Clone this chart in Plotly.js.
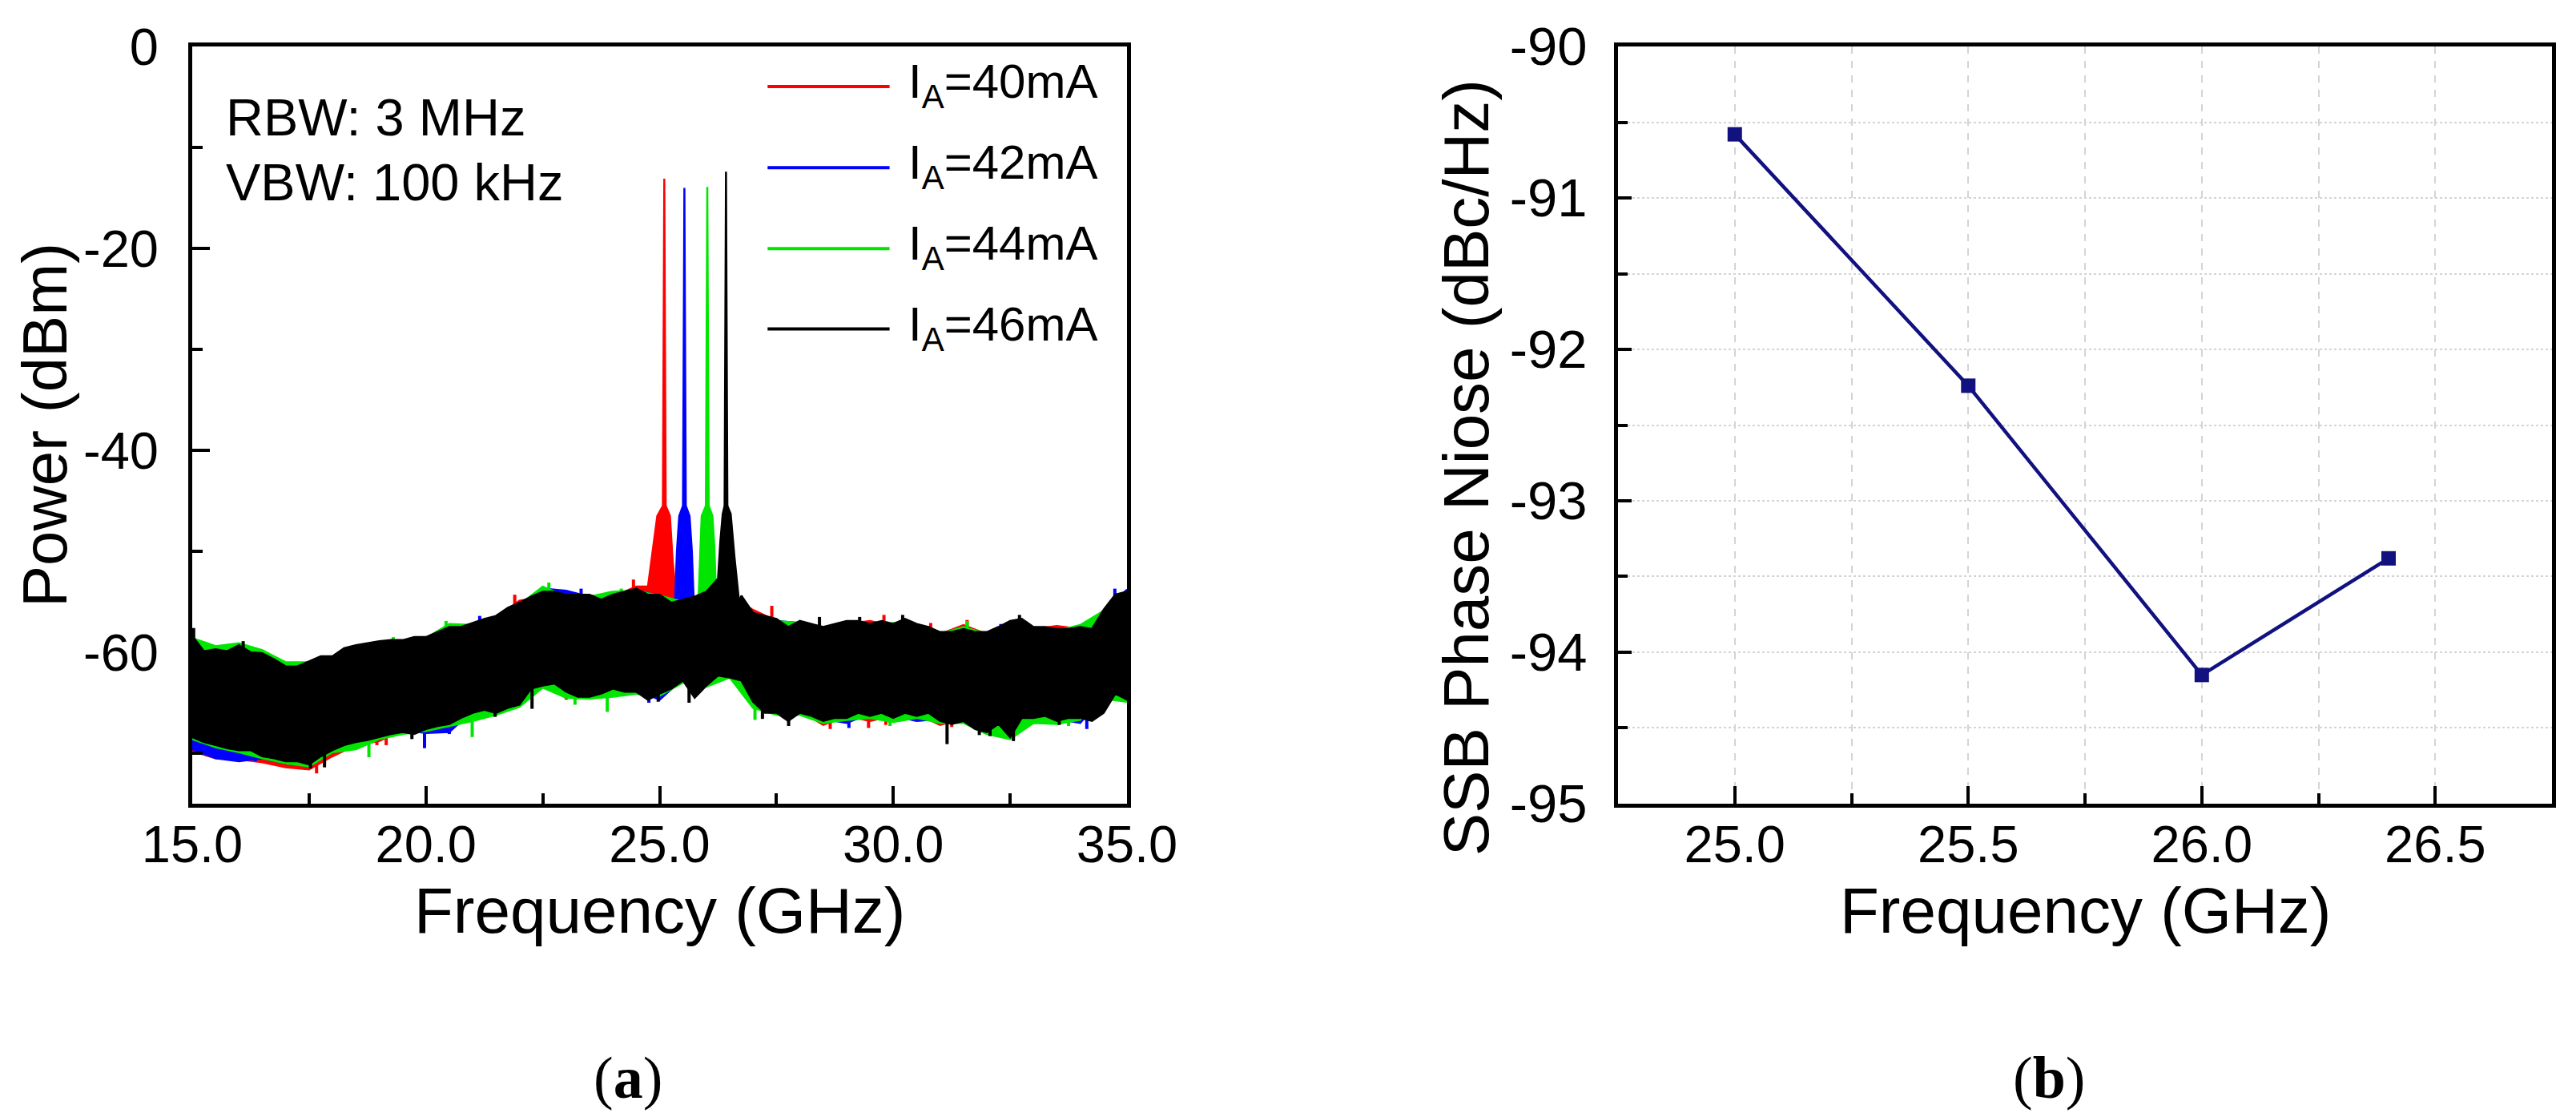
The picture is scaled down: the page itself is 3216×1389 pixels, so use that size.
<!DOCTYPE html>
<html>
<head>
<meta charset="utf-8">
<script src="https://cdn.plot.ly/plotly-3.0.1.min.js"></script>
<style>
html,body{margin:0;padding:0;background:#ffffff;}
#chart{width:3216px;height:1389px;}
</style>
</head>
<body>
<div id="chart"></div>
<script>
// ---------------- Panel (a): spectra ----------------
const seriesNames  = ['I<sub>A</sub>=40mA', 'I<sub>A</sub>=42mA', 'I<sub>A</sub>=44mA', 'I<sub>A</sub>=46mA'];
const seriesColors = ['#ff0000', '#0000ff', '#00e600', '#000000'];

// frequency grids (GHz)
const freqFine = [15,15.25,15.5,15.75,16,16.25,16.5,16.75,17,17.25,17.5,17.75,18,18.25,18.5,18.75,
  19,19.25,19.5,19.75,20,20.25,20.5,20.75,21,21.25,21.5,21.75,22,22.25,22.5,22.75,
  23,23.25,23.5,23.75,24,24.25,24.5,24.75,25,25.25,25.5,25.75,26,26.25,26.5,26.75,
  27,27.25,27.5,27.75,28,28.25,28.5,28.75,29,29.25,29.5,29.75,30,30.25,30.5,30.75,
  31,31.25,31.5,31.75,32,32.25,32.5,32.75,33,33.25,33.5,33.75,34,34.25,34.5,34.75,35];
const freqCoarse = [15,15.5,16,16.5,17,17.5,18,18.5,19,19.5,20,20.5,21,21.5,22,22.5,23,23.5,24,24.5,
  25,25.5,26,26.5,27,27.5,28,28.5,29,29.5,30,30.5,31,31.5,32,32.5,33,33.5,34,34.5,35];

// I_A = 46 mA (black): noise-floor upper / lower envelope (dBm) on freqFine
const black46Upper = [-58.4,-59.9,-59.7,-59.9, -59.3,-60.0,-60.1,-60.7, -61.4,-61.4,-60.9,-60.4,
  -60.4,-59.6,-59.3,-59.1, -58.9,-58.8,-58.8,-58.5, -58.5,-58.0,-57.5,-57.5, -57.1,-56.7,-56.4,-55.6,
  -55.1,-54.5,-54.0,-54.0, -54.3,-54.3,-54.3,-54.8, -54.3,-54.0,-53.7,-54.3, -54.3,-55.1,-54.8,-54.5,
  -54.0,-52.7,-50.0,-54.4, -56.1,-56.4,-56.7,-57.5, -56.9,-57.2,-57.5,-57.2, -56.9,-56.9,-57.2,-56.9,
  -57.2,-56.7,-57.2,-57.5, -58.0,-58.0,-57.7,-58.0, -58.0,-57.5,-56.9,-56.7, -57.5,-57.5,-57.7,-57.7,
  -57.5,-57.7,-55.8,-54.3, -54.0];
const black46Lower = [-68.4,-68.9,-69.2,-69.5, -69.7,-69.7,-70.3,-70.5, -70.8,-70.8,-71.1,-70.3,
  -69.7,-69.2,-68.9,-68.7, -68.4,-68.1,-67.9,-68.1, -67.6,-67.3,-67.1,-66.5, -66.0,-65.7,-66.0,-65.5,
  -65.2,-63.6,-63.3,-63.1, -63.9,-64.4,-64.4,-64.1, -63.6,-63.9,-63.9,-64.7, -64.1,-63.6,-62.8,-64.5,
  -63.3,-62.3,-62.5,-62.8, -64.9,-66.0,-66.0,-66.8, -66.0,-66.3,-66.8,-66.5, -66.5,-66.0,-66.3,-66.0,
  -66.5,-66.0,-66.3,-66.0, -66.8,-67.1,-66.8,-67.6, -67.9,-67.1,-68.4,-66.5, -66.5,-66.3,-66.8,-66.5,
  -66.5,-66.8,-66.0,-64.1, -64.7];

// I_A = 40/42/44 mA noise-floor envelopes (dBm) on freqCoarse
const red40Upper = [-58.9,-60.2,-59.8,-60.6,-61.7,-61.4,-60.9,-59.8,-59.4,-59.3,-58.6,-57.6,-57.3,-56.6,-54.9,-54.5,-54.6,-54.4,-54.5,-53.5,
  -53.0,-55.0,-54.5,-55.0,-55.8,-56.9,-57.2,-57.7,-57.2,-56.9,-57.4,-57.5,-58.2,-57.3,-58.2,-57.2,-57.7,-57.4,-57.7,-55.9,-54.4];
const red40Lower = [-69.8,-70.5,-70.6,-70.9,-71.4,-71.6,-70.3,-69.2,-68.8,-67.7,-67.4,-66.9,-65.8,-65.8,-65.0,-63.1,-64.3,-64.2,-63.4,-63.7,
  -63.9,-62.6,-63.1,-62.3,-64.7,-65.8,-65.8,-67.2,-66.3,-66.8,-66.3,-66.1,-67.2,-66.6,-67.7,-68.2,-67.0,-66.6,-66.3,-64.2,-64.5];
const blue42Upper = [-58.9,-60.0,-59.8,-60.5,-61.5,-61.2,-60.7,-59.6,-59.2,-59.1,-58.7,-57.8,-57.3,-56.6,-55.3,-53.7,-53.9,-54.5,-54.5,-53.9,
  -54.4,-54.6,-54.2,-55.0,-56.3,-56.9,-57.1,-57.7,-57.1,-57.4,-57.4,-57.4,-58.2,-57.9,-58.2,-57.1,-57.7,-57.9,-57.7,-55.9,-53.8];
const blue42Lower = [-69.6,-70.5,-70.8,-70.5,-71.0,-70.9,-69.5,-68.7,-68.2,-67.7,-68.0,-67.9,-65.8,-65.8,-65.0,-63.1,-63.7,-64.2,-63.4,-63.7,
  -64.7,-62.6,-63.1,-62.3,-64.7,-65.8,-65.8,-66.6,-67.0,-66.1,-66.3,-66.8,-66.6,-66.6,-67.7,-68.2,-66.3,-66.6,-67.0,-64.2,-64.5];
const green44Upper = [-58.6,-59.4,-59.1,-59.8,-61.0,-61.0,-60.5,-59.5,-59.1,-58.9,-58.6,-57.2,-57.3,-56.6,-55.3,-53.5,-54.5,-54.5,-54.0,-53.9,
  -54.4,-55.0,-54.5,-55.0,-56.3,-56.9,-57.1,-57.7,-57.1,-57.4,-57.1,-57.4,-58.2,-57.5,-58.2,-57.1,-57.7,-57.9,-57.3,-55.9,-54.2];
const green44Lower = [-68.6,-69.4,-69.9,-70.5,-71.0,-71.3,-69.9,-69.6,-68.6,-68.1,-67.8,-67.3,-66.8,-66.2,-65.4,-63.5,-64.5,-64.6,-64.4,-64.1,
  -64.3,-63.0,-63.4,-62.5,-65.5,-66.2,-66.2,-67.0,-66.7,-66.5,-66.9,-66.5,-67.0,-67.0,-68.1,-68.6,-67.0,-67.1,-66.7,-64.6,-64.9];

// oscillation peaks (frequency GHz, power dBm), outline of each peak
const red40PeakX   = [24.75, 24.85, 24.95, 25.07, 25.10, 25.13, 25.22, 25.28, 25.35];
const red40PeakY   = [-53.5, -50.0, -46.5, -45.5, -13.1, -45.5, -46.5, -51.0, -54.5];
const blue42PeakX  = [25.33, 25.37, 25.42, 25.50, 25.53, 25.56, 25.64, 25.69, 25.73];
const blue42PeakY  = [-55.0, -50.0, -46.5, -45.5, -14.0, -45.5, -46.5, -50.0, -55.0];
const green44PeakX = [25.83, 25.87, 25.90, 25.99, 26.02, 26.05, 26.13, 26.17, 26.21];
const green44PeakY = [-55.0, -50.0, -46.5, -45.5, -13.9, -45.5, -46.5, -49.5, -54.5];
const black46PeakX = [26.25, 26.30, 26.35, 26.39, 26.42, 26.45, 26.52, 26.60, 26.70];
const black46PeakY = [-52.7, -49.0, -46.3, -45.5, -12.4, -45.5, -46.3, -50.5, -55.0];

// isolated noise spikes poking out of the floor (frequency GHz, tip dBm)
const red40SpikeX   = [15.5, 15.75, 17.07, 17.66, 18.95, 19.15, 23.0, 21.9, 24.44, 26.95, 27.4, 29.8, 30.8, 31.58, 28.65, 29.47, 29.84, 31.25, 33.1];
const red40SpikeY   = [-70.3, -70.5, -71.2, -72.0, -69.2, -69.2, -64.7, -54.3, -52.8, -55.6, -55.4, -56.3, -57.1, -56.8, -67.6, -67.5, -67.2, -67.4, -66.9];
const blue42SpikeX  = [15.1, 16.35, 17.14, 19.97, 20.5, 24.77, 21.15, 22.5, 23.32, 29.05, 30.46, 34.14, 34.74, 32.3];
const blue42SpikeY  = [-69.7, -70.8, -71.2, -69.5, -68.1, -65.0, -56.4, -53.5, -53.7, -67.5, -66.8, -67.6, -53.7, -57.2];
const green44SpikeX = [15.23, 15.82, 16.95, 17.15, 19.3, 20.43, 22.63, 24.18, 18.78, 20.99, 23.19, 23.88, 27.04, 28.03, 29.93, 32.76, 33.75, 31.58];
const green44SpikeY = [-59.3, -59.2, -60.8, -61.0, -58.5, -56.9, -53.1, -53.7, -70.4, -68.4, -65.2, -65.9, -66.7, -66.3, -67.3, -67.6, -67.3, -56.9];
const black46SpikeX = [15.03, 16.09, 17.53, 17.83, 19.7, 21.48, 22.27, 24.97, 25.63, 27.2, 27.76, 30.2, 31.15, 31.84, 32.07, 32.57, 32.7, 33.55, 28.42, 29.28];
const black46SpikeY = [-57.6, -58.9, -71.5, -71.4, -68.6, -66.4, -65.6, -64.9, -65.0, -66.6, -67.3, -56.3, -69.1, -68.2, -68.3, -68.8, -56.3, -67.2, -56.5, -56.5];
const spikeRootLevel = -62.5;   // spikes are rooted inside the noise band (hidden under the floor)

// tick labels panel (a)
const xTickValsA = [15, 20, 25, 30, 35];
const xTickTextA = ['15.0', '20.0', '25.0', '30.0', '35.0'];
const yTickValsA = [0, -20, -40, -60];
const yTickTextA = ['0', '-20', '-40', '-60'];

// ---------------- Panel (b): phase noise ----------------
const pnFreq  = [25.0, 25.5, 26.0, 26.4];
const pnValue = [-90.58, -92.24, -94.15, -93.38];
const xTickValsB = [25.0, 25.5, 26.0, 26.5];
const xTickTextB = ['25.0', '25.5', '26.0', '26.5'];
const yTickValsB = [-90, -91, -92, -93, -94, -95];
const yTickTextB = ['-90', '-91', '-92', '-93', '-94', '-95'];

// ---------------- build traces ----------------
function bandPolygon(gridX, upper, lower, peakX, peakY) {
  const px0 = peakX[0], px1 = peakX[peakX.length - 1];
  const xs = [], ys = [];
  gridX.forEach((f, i) => { if (f < px0) { xs.push(f); ys.push(upper[i]); } });
  peakX.forEach((f, i) => { xs.push(f); ys.push(peakY[i]); });
  gridX.forEach((f, i) => { if (f > px1) { xs.push(f); ys.push(upper[i]); } });
  for (let i = gridX.length - 1; i >= 0; i--) { xs.push(gridX[i]); ys.push(lower[i]); }
  return { x: xs, y: ys };
}
function spikeSegments(sx, sy) {
  const xs = [], ys = [];
  sx.forEach((f, i) => { xs.push(f, f, null); ys.push(sy[i], spikeRootLevel, null); });
  return { x: xs, y: ys };
}

const seriesInputs = [
  [freqCoarse, red40Upper, red40Lower, red40PeakX, red40PeakY, red40SpikeX, red40SpikeY],
  [freqCoarse, blue42Upper, blue42Lower, blue42PeakX, blue42PeakY, blue42SpikeX, blue42SpikeY],
  [freqCoarse, green44Upper, green44Lower, green44PeakX, green44PeakY, green44SpikeX, green44SpikeY],
  [freqFine, black46Upper, black46Lower, black46PeakX, black46PeakY, black46SpikeX, black46SpikeY]
];

const traces = [];
seriesInputs.forEach((a, k) => {
  const poly = bandPolygon(a[0], a[1], a[2], a[3], a[4]);
  traces.push({
    type: 'scatter', mode: 'lines', x: poly.x, y: poly.y,
    fill: 'toself', fillcolor: seriesColors[k],
    line: { color: seriesColors[k], width: 2.5 },
    name: seriesNames[k], showlegend: false, xaxis: 'x', yaxis: 'y', hoverinfo: 'skip'
  });
  const sp = spikeSegments(a[5], a[6]);
  traces.push({
    type: 'scatter', mode: 'lines', x: sp.x, y: sp.y, connectgaps: false,
    line: { color: seriesColors[k], width: 4 },
    name: seriesNames[k], showlegend: false, xaxis: 'x', yaxis: 'y', hoverinfo: 'skip'
  });
});

traces.push({
  type: 'scatter', mode: 'lines+markers', x: pnFreq, y: pnValue,
  line: { color: '#11117f', width: 4.5 },
  marker: { symbol: 'square', size: 18, color: '#11117f' },
  showlegend: false, xaxis: 'x2', yaxis: 'y2'
});

// ---------------- layout ----------------
const FONT = 'Liberation Sans, Arial, sans-serif';
const SERIF = 'Liberation Serif, Times New Roman, serif';
const axisCommon = {
  showline: true, linecolor: '#000', linewidth: 5, mirror: true,
  ticks: 'inside', ticklen: 22, tickwidth: 4, tickcolor: '#000',
  tickfont: { family: FONT, size: 65, color: '#000' },
  zeroline: false, tickmode: 'array'
};

const legendYs = [0.947, 0.840, 0.733, 0.627];
const shapes = [];
const annotations = [];
seriesNames.forEach((nm, k) => {
  shapes.push({ type: 'line', xref: 'x domain', yref: 'y domain',
    x0: 0.6155, x1: 0.746, y0: legendYs[k], y1: legendYs[k],
    line: { color: seriesColors[k], width: 4 } });
  annotations.push({ xref: 'x domain', yref: 'y domain', x: 0.7647, y: legendYs[k] + 0.002,
    xanchor: 'left', yanchor: 'middle', text: nm, showarrow: false,
    font: { family: FONT, size: 60, color: '#000' } });
});
function note(x, y, text, size, extra) {
  annotations.push(Object.assign({ xref: 'paper', yref: 'paper', x: x, y: y,
    xanchor: 'center', yanchor: 'middle', text: text, showarrow: false,
    font: { family: FONT, size: size, color: '#000' } }, extra || {}));
}
annotations.push({ xref: 'x domain', yref: 'y domain', x: 0.034, y: 0.906,
  xanchor: 'left', yanchor: 'middle', text: 'RBW: 3 MHz', showarrow: false,
  font: { family: FONT, size: 65, color: '#000' } });
annotations.push({ xref: 'x domain', yref: 'y domain', x: 0.034, y: 0.821,
  xanchor: 'left', yanchor: 'middle', text: 'VBW: 100 kHz', showarrow: false,
  font: { family: FONT, size: 65, color: '#000' } });
// axis titles
note(0.2561, 0.1820, 'Frequency (GHz)', 80);
note(0.8094, 0.1820, 'Frequency (GHz)', 80);
note(0.0174, 0.6184, 'Power (dBm)', 78, { textangle: -90 });
note(0.5690, 0.580, 'SSB Phase Niose (dBc/Hz)', 80, { textangle: -90 });
// panel labels
note(0.2438, 0.032, '(<b>a</b>)', 74, { font: { family: SERIF, size: 74, color: '#000' } });
note(0.7954, 0.032, '(<b>b</b>)', 74, { font: { family: SERIF, size: 74, color: '#000' } });

const layout = {
  width: 3216, height: 1389,
  margin: { l: 0, r: 0, t: 0, b: 0 },
  paper_bgcolor: '#fff', plot_bgcolor: '#fff',
  font: { family: FONT, color: '#000' },
  showlegend: false,
  xaxis: Object.assign({}, axisCommon, {
    domain: [0.07463, 0.4375], range: [15, 35], anchor: 'y',
    tickvals: xTickValsA, ticktext: xTickTextA, ticklabelstandoff: -10,
    minor: { tickvals: [17.5, 22.5, 27.5, 32.5], ticks: 'inside', ticklen: 13, tickwidth: 4, tickcolor: '#000' },
    showgrid: false
  }),
  yaxis: Object.assign({}, axisCommon, {
    domain: [0.2779, 0.95824], range: [-75, 0], anchor: 'x',
    tickvals: yTickValsA, ticktext: yTickTextA, ticklabelstandoff: 24,
    minor: { tickvals: [-10, -30, -50, -70], ticks: 'inside', ticklen: 13, tickwidth: 4, tickcolor: '#000' },
    showgrid: false
  }),
  xaxis2: Object.assign({}, axisCommon, {
    domain: [0.62811, 0.9907], range: [24.75, 26.75], anchor: 'y2',
    tickvals: xTickValsB, ticktext: xTickTextB, ticklabelstandoff: -10,
    showgrid: true, gridcolor: '#d4d4d4', gridwidth: 2, griddash: 'dash',
    minor: { tickvals: [25.25, 25.75, 26.25], ticks: 'inside', ticklen: 13, tickwidth: 4, tickcolor: '#000',
             showgrid: true, gridcolor: '#d4d4d4', gridwidth: 2, griddash: 'dash' }
  }),
  yaxis2: Object.assign({}, axisCommon, {
    domain: [0.2779, 0.95824], range: [-95, -90], anchor: 'x2',
    tickvals: yTickValsB, ticktext: yTickTextB, ticklabelstandoff: 20, ticklen: 17,
    tickfont: { family: FONT, size: 67, color: '#000' },
    showgrid: true, gridcolor: '#d4d4d4', gridwidth: 2, griddash: 'dot',
    minor: { tickvals: [-90.5, -91.5, -92.5, -93.5, -94.5], ticks: 'inside', ticklen: 12, tickwidth: 4, tickcolor: '#000',
             showgrid: true, gridcolor: '#d4d4d4', gridwidth: 2, griddash: 'dot' }
  }),
  shapes: shapes,
  annotations: annotations
};

Plotly.newPlot('chart', traces, layout, { staticPlot: true, displayModeBar: false });
</script>
</body>
</html>
